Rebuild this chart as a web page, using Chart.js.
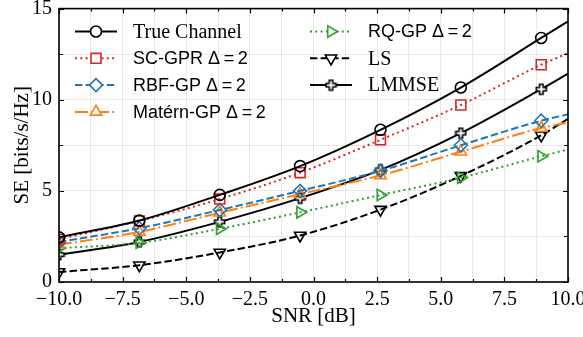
<!DOCTYPE html>
<html>
<head>
<meta charset="utf-8">
<script src="https://cdn.jsdelivr.net/npm/chart.js@4.4.0/dist/chart.umd.min.js"></script>
<style>
  html, body { margin: 0; padding: 0; background: #fff; }
  #wrap { width: 583px; height: 337px; }
</style>
</head>
<body>
<div id="wrap"><canvas id="chart" width="583" height="337"></canvas></div>
<script>
// SE vs SNR, markers every 3rd point of the sweep plus the end point at 10 dB
const snr = [-10, -6.842, -3.684, -0.526, 2.632, 5.789, 8.947, 10];

const trueChannel = [2.45, 3.37, 4.78, 6.36, 8.35, 10.67, 13.39, 14.3];
const scGpr       = [2.35, 3.35, 4.55, 6.0, 7.8, 9.71, 11.92, 12.55];
const rbfGp       = [2.2, 2.95, 3.95, 5.0, 6.1, 7.5, 8.85, 9.2];
const maternGp    = [2.05, 2.75, 3.8, 4.82, 5.85, 7.15, 8.45, 8.75];
const rqGp        = [1.85, 2.15, 2.92, 3.82, 4.77, 5.72, 6.9, 7.27];
const ls          = [0.55, 0.92, 1.62, 2.55, 3.97, 5.82, 8.05, 8.95];
const lmmse       = [1.5, 2.2, 3.3, 4.6, 6.15, 8.17, 10.58, 11.43];

const yTickLabels = [0, 5, 10, 15];
const xTickLabels = [-10, -7.5, -5, -2.5, 0, 2.5, 5, 7.5, 10];

const serif = 'Liberation Serif';
const sans = 'Liberation Sans';

// hollow "P" marker (thick plus outline)
function plusMarker() {
    const c = document.createElement('canvas');
    c.width = 13; c.height = 13;
    const g = c.getContext('2d');
    const m = 6.5, w = 1.8, l = 5;
    g.beginPath();
    g.moveTo(m - w, m - l); g.lineTo(m + w, m - l); g.lineTo(m + w, m - w);
    g.lineTo(m + l, m - w); g.lineTo(m + l, m + w); g.lineTo(m + w, m + w);
    g.lineTo(m + w, m + l); g.lineTo(m - w, m + l); g.lineTo(m - w, m + w);
    g.lineTo(m - l, m + w); g.lineTo(m - l, m - w); g.lineTo(m - w, m - w);
    g.closePath();
    g.fillStyle = '#fff';
    g.fill();
    g.lineWidth = 1.6;
    g.strokeStyle = '#000';
    g.stroke();
    return c;
}

function series(label, values, color, dash, style, radius, rotation, font) {
    return {
        label,
        data: values.map((v, i) => ({ x: snr[i], y: v })),
        borderColor: color,
        borderWidth: 2,
        borderDash: dash,
        pointStyle: style,
        pointRadius: values.map((_, i) => i === values.length - 1 ? 0 : radius),
        pointRotation: rotation,
        pointBorderColor: color,
        pointBackgroundColor: 'rgba(0,0,0,0)',
        pointBorderWidth: 1.6,
        cubicInterpolationMode: 'monotone',
        fill: false,
        legendFont: font,
        legendRadius: radius
    };
}

const delta = 'Δ\u2009=\u20092';

const datasets = [
    series('True Channel', trueChannel, '#000000', [], 'circle', 5.5, 0, serif),
    series('SC-GPR ' + delta, scGpr, '#d62728', [2, 3.3], 'rect', 7, 0, sans),
    series('RBF-GP ' + delta, rbfGp, '#1f77b4', [7.4, 3.2], 'rectRot', 6.5, 0, sans),
    series('Matérn-GP ' + delta, maternGp, '#ff7f0e', [12.8, 3.2, 2, 3.2], 'triangle', 6.5, 0, sans),
    series('RQ-GP ' + delta, rqGp, '#2ca02c', [2, 3.3], 'triangle', 6.5, 90, sans),
    series('LS', ls, '#000000', [7.4, 3.2], 'triangle', 6.5, 180, serif),
    series('LMMSE', lmmse, '#000000', [], plusMarker(), 6, 0, serif)
];

// legend in two columns, frame and inward ticks
const extras = {
    id: 'extras',
    afterDraw(chart) {
        const { ctx, chartArea: a, scales: { x, y } } = chart;
        ctx.save();

        // ticks
        ctx.strokeStyle = '#000';
        ctx.lineWidth = 1.2;
        ctx.setLineDash([]);
        ctx.beginPath();
        for (let v = -10; v <= 10.001; v += 1.25) {
            const px = Math.round(x.getPixelForValue(v)) + 0.5;
            const len = Math.abs(v / 2.5 - Math.round(v / 2.5)) < 1e-6 ? 5 : 3;
            ctx.moveTo(px, a.bottom); ctx.lineTo(px, a.bottom - len);
            ctx.moveTo(px, a.top); ctx.lineTo(px, a.top + len);
        }
        for (let v = 0; v <= 15.001; v += 2.5) {
            const py = Math.round(y.getPixelForValue(v)) + 0.5;
            const len = v % 5 === 0 ? 5 : 4;
            ctx.moveTo(a.left, py); ctx.lineTo(a.left + len, py);
            ctx.moveTo(a.right, py); ctx.lineTo(a.right - len, py);
        }
        ctx.stroke();

        // frame
        ctx.lineWidth = 1.6;
        ctx.strokeRect(a.left, a.top, a.right - a.left, a.bottom - a.top);

        // legend
        const cols = [{ x: 75, items: [0, 1, 2, 3] }, { x: 310, items: [4, 5, 6] }];
        const handle = 42, rowH = 26.8, y0 = 31.5;
        cols.forEach(col => {
            col.items.forEach((di, r) => {
                const ds = chart.data.datasets[di];
                const yy = y0 + r * rowH;
                ctx.strokeStyle = ds.borderColor;
                ctx.lineWidth = ds.borderWidth;
                ctx.setLineDash(ds.borderDash);
                ctx.beginPath();
                ctx.moveTo(col.x, yy);
                ctx.lineTo(col.x + handle, yy);
                ctx.stroke();
                ctx.setLineDash([]);
                ctx.lineWidth = 1.6;
                ctx.fillStyle = '#fff';
                Chart.helpers.drawPoint(ctx, {
                    pointStyle: ds.pointStyle,
                    rotation: ds.pointRotation,
                    radius: ds.legendRadius,
                    borderWidth: 1.6
                }, col.x + handle / 2, yy);
                ctx.fillStyle = '#000';
                ctx.textBaseline = 'middle';
                ctx.textAlign = 'left';
                ctx.font = ds.legendFont === serif ? '20px "Liberation Serif"' : '18px "Liberation Sans"';
                ctx.fillText(ds.label, col.x + handle + 16, yy + 1);
            });
        });
        ctx.restore();
    }
};

new Chart(document.getElementById('chart'), {
    type: 'line',
    data: { datasets },
    options: {
        responsive: false,
        devicePixelRatio: 1,
        animation: false,
        layout: { padding: { top: 6, right: 15, left: 0, bottom: 0 } },
        plugins: { legend: { display: false }, tooltip: { enabled: false } },
        scales: {
            x: {
                type: 'linear',
                min: -10, max: 10,
                afterFit(s) { s.height = 55; s.paddingLeft = 0; s.paddingRight = 0; },
                grid: { color: '#e8e8e8', lineWidth: 1, drawTicks: false },
                border: { display: false },
                ticks: {
                    stepSize: 1.25, autoSkip: false, maxRotation: 0, padding: 6,
                    color: '#000', font: { family: serif, size: 20 },
                    callback: v => xTickLabels.includes(v) ? v.toFixed(1).replace('-', '\u2212') : ''
                },
                title: {
                    display: true, text: 'SNR [dB]', color: '#000',
                    font: { family: serif, size: 21 }, padding: { top: 0, bottom: 8 }
                }
            },
            y: {
                type: 'linear',
                min: 0, max: 15,
                afterFit(s) { s.width = 59; s.paddingTop = 0; s.paddingBottom = 0; },
                grid: { color: '#e8e8e8', lineWidth: 1, drawTicks: false },
                border: { display: false },
                ticks: {
                    stepSize: 2.5, autoSkip: false, padding: 7,
                    color: '#000', font: { family: serif, size: 20 },
                    callback: v => yTickLabels.includes(v) ? String(v) : ''
                },
                title: {
                    display: true, text: 'SE [bits/s/Hz]', color: '#000',
                    font: { family: serif, size: 21 }, padding: { top: 10, bottom: 0 }
                }
            }
        }
    },
    plugins: [extras]
});
</script>
</body>
</html>
